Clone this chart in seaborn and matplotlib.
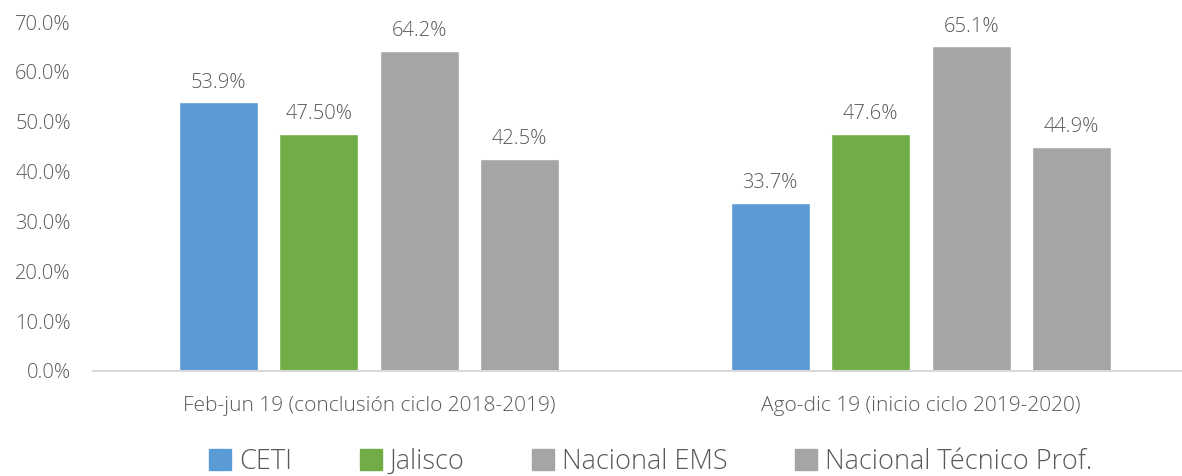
import pandas as pd
import matplotlib.pyplot as plt
import seaborn as sns

# Data
periods = ['Feb-jun 19 (conclusión ciclo 2018-2019)', 'Ago-dic 19 (inicio ciclo 2019-2020)']
series = ['CETI', 'Jalisco', 'Nacional EMS', 'Nacional Técnico Prof.']
ceti = [53.9, 33.7]
jalisco = [47.5, 47.6]
nacional_ems = [64.2, 65.1]
nacional_tec = [42.5, 44.9]
labels = {
    'CETI': ['53.9%', '33.7%'],
    'Jalisco': ['47.50%', '47.6%'],
    'Nacional EMS': ['64.2%', '65.1%'],
    'Nacional Técnico Prof.': ['42.5%', '44.9%'],
}
colors = ['#5B9BD5', '#70AD47', '#A5A5A5', '#A5A5A5']

rows = []
for name, vals in zip(series, [ceti, jalisco, nacional_ems, nacional_tec]):
    for p, v in zip(periods, vals):
        rows.append({'periodo': p, 'serie': name, 'valor': v})
df = pd.DataFrame(rows)

sns.set_style("white")
plt.rcParams['font.family'] = ['Open Sans', 'DejaVu Sans']
plt.rcParams['font.weight'] = 300
text_color = '#595959'

fig = plt.figure(figsize=(11.82, 4.76), dpi=100)
ax = fig.add_axes([93 / 1182, 105 / 476, 1104 / 1182, 349 / 476])

sns.barplot(data=df, x='periodo', y='valor', hue='serie', order=periods,
            hue_order=series, palette=colors, width=0.728, gap=0.214,
            saturation=1, ax=ax, legend=True)

for cont, name in zip(ax.containers, series):
    ax.bar_label(cont, labels=labels[name], padding=7, fontsize=14.5,
                 color=text_color, fontweight=300)

ax.set_ylim(0, 70)
ax.set_xlim(-0.5, 1.5)
ax.set_yticks(range(0, 71, 10))
ax.set_yticklabels([f'{t:.1f}%' for t in range(0, 71, 10)])
ax.set_xlabel('')
ax.set_ylabel('')
ax.tick_params(axis='y', length=0, pad=16, labelsize=14.5, labelcolor=text_color)
ax.tick_params(axis='x', length=0, pad=18, labelsize=15, labelcolor=text_color)
for s in ['top', 'right', 'left']:
    ax.spines[s].set_visible(False)
ax.spines['bottom'].set_color('#D9D9D9')
ax.spines['bottom'].set_linewidth(1.5)

ax.get_legend().remove()
handles = [plt.Rectangle((0, 0), 1, 1, color=c) for c in colors]
fig.legend(handles, series, loc='center', bbox_to_anchor=(651 / 1182, 14 / 476),
           ncol=4, frameon=False, fontsize=19.5, handlelength=0.8, handleheight=0.8,
           handletextpad=0.3, columnspacing=2.5, labelcolor=text_color)

fig.savefig('out.png', dpi=100)
